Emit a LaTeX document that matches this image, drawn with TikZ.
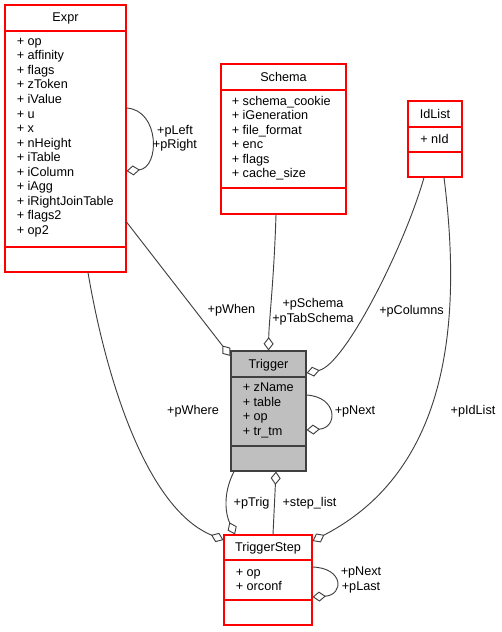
\documentclass[tikz,border=0pt]{standalone}
\usepackage{fontspec}
\setmainfont{Liberation Sans}
\usetikzlibrary{arrows.meta,positioning,fit}

\begin{document}
\begin{tikzpicture}[
  x=0.75pt, y=-0.75pt,
  txt/.style={inner sep=0pt, font=\fontsize{9.5}{10.9}\selectfont},
  box/.style={rectangle, draw=red, fill=white, line width=0.8pt, inner sep=0pt},
  curbox/.style={box, draw=black!75, fill=black!25},
  sep/.style={draw=red, line width=0.8pt},
  cursep/.style={draw=black!75, line width=0.8pt},
  members/.style={txt, align=left, anchor=west},
  lbl/.style={txt, align=center},
  agg/.style={draw=black!75, line width=0.7pt, -{Diamond[open, length=10pt, width=7.5pt]}}
]
\useasboundingbox (0,0) rectangle (502,632);

% Expr
\node[box, fit={(5,5) (126,272)}] (expr) {};
\draw[sep] (expr.west |- 0,31) -- (expr.east |- 0,31);
\draw[sep] (expr.west |- 0,247) -- (expr.east |- 0,247);
\node[txt] at (65.5,18) {Expr};
\node[members] at (16.5,137.5) {+ op\\+ affinity\\+ flags\\+ zToken\\+ iValue\\+ u\\+ x\\+ nHeight\\+ iTable\\+ iColumn\\+ iAgg\\+ iRightJoinTable\\+ flags2\\+ op2};

% Schema
\node[box, fit={(221,64) (346,214)}] (schema) {};
\draw[sep] (schema.west |- 0,90) -- (schema.east |- 0,90);
\draw[sep] (schema.west |- 0,188) -- (schema.east |- 0,188);
\node[txt] at (283.5,77) {Schema};
\node[members] at (231.5,138) {+ schema\_cookie\\+ iGeneration\\+ file\_format\\+ enc\\+ flags\\+ cache\_size};

% IdList
\node[box, fit={(408,101) (462,177)}] (idlist) {};
\draw[sep] (idlist.west |- 0,127) -- (idlist.east |- 0,127);
\draw[sep] (idlist.west |- 0,152) -- (idlist.east |- 0,152);
\node[txt] at (435,114) {IdList};
\node[members] at (420,139) {+ nId};

% Trigger
\node[curbox, fit={(231,351) (306,471)}] (trigger) {};
\draw[cursep] (trigger.west |- 0,377) -- (trigger.east |- 0,377);
\draw[cursep] (trigger.west |- 0,446) -- (trigger.east |- 0,446);
\node[txt] at (268.5,365) {Trigger};
\node[members] at (242.5,410.5) {+ zName\\+ table\\+ op\\+ tr\_tm};

% TriggerStep
\node[box, fit={(224,535) (312,625)}] (tstep) {};
\draw[sep] (tstep.west |- 0,560) -- (tstep.east |- 0,560);
\draw[sep] (tstep.west |- 0,600) -- (tstep.east |- 0,600);
\node[txt] at (268,548) {TriggerStep};
\node[members] at (235.5,580) {+ op\\+ orconf};

% connectors
\draw[agg] (expr.east |- 0,108) .. controls (160,110) and (160,168) .. (expr.east |- 0,171);
\draw[agg] (expr.east |- 0,222) -- (trigger.west |- 0,356);
\draw[agg] (schema.south -| 276,0) .. controls (274,280) and (269,320) .. (trigger.north);
\draw[agg] (idlist.south -| 424,0) .. controls (405,245) and (345,365) .. (trigger.east |- 0,373);
\draw[agg] (trigger.east |- 0,395) .. controls (338,397) and (338,428) .. (trigger.east |- 0,430);
\draw[agg] (expr.south -| 88,0) .. controls (108,390) and (150,510) .. (tstep.west |- 0,540);
\draw[agg] (idlist.south -| 444,0) .. controls (462,320) and (450,470) .. (tstep.east |- 0,541);
\draw[agg] (trigger.south -| 234,0) .. controls (222,495) and (226,515) .. (tstep.north -| 235,0);
\draw[agg] (tstep.north -| 273,0) -- (trigger.south -| 276,0);
\draw[agg] (tstep.east |- 0,567) .. controls (344,568) and (344,595) .. (tstep.east |- 0,597);

% labels
\node[lbl] at (175,138) {+pLeft\\+pRight};
\node[lbl] at (231.5,310.5) {+pWhen};
\node[lbl] at (313,311.5) {+pSchema\\+pTabSchema};
\node[lbl] at (411.5,311) {+pColumns};
\node[lbl] at (355,411) {+pNext};
\node[lbl] at (193,411) {+pWhere};
\node[lbl] at (473,411) {+pIdList};
\node[lbl] at (251.5,503.5) {+pTrig};
\node[lbl] at (309.5,503.5) {+step\_list};
\node[lbl] at (361,580) {+pNext\\+pLast};
\end{tikzpicture}
\end{document}
